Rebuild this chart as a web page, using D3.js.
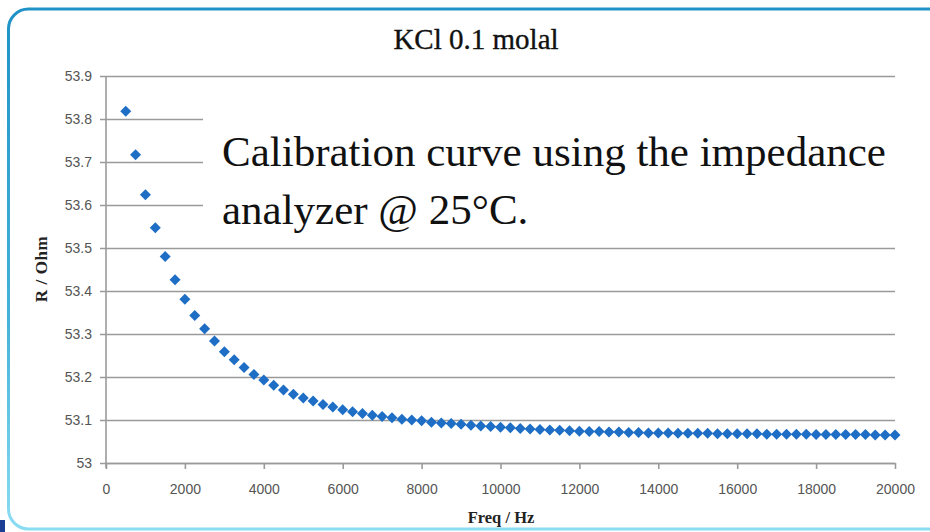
<!DOCTYPE html>
<html>
<head>
<meta charset="utf-8">
<script src="https://cdn.jsdelivr.net/npm/d3@7"></script>
<style>
  html, body { margin: 0; padding: 0; background: #fff; }
  svg { display: block; }
</style>
</head>
<body>
<svg id="chart" width="930" height="532"></svg>
<script>
// KCl 0.1 molal calibration: resistance vs frequency
const freqHz = [
  500, 750, 1000, 1250, 1500, 1750, 2000, 2250, 2500, 2750,
  3000, 3250, 3500, 3750, 4000, 4250, 4500, 4750, 5000, 5250,
  5500, 5750, 6000, 6250, 6500, 6750, 7000, 7250, 7500, 7750,
  8000, 8250, 8500, 8750, 9000, 9250, 9500, 9750, 10000, 10250,
  10500, 10750, 11000, 11250, 11500, 11750, 12000, 12250, 12500, 12750,
  13000, 13250, 13500, 13750, 14000, 14250, 14500, 14750, 15000, 15250,
  15500, 15750, 16000, 16250, 16500, 16750, 17000, 17250, 17500, 17750,
  18000, 18250, 18500, 18750, 19000, 19250, 19500, 19750, 20000
];
const resistanceOhm = [
  53.818, 53.717, 53.624, 53.547, 53.480, 53.426, 53.381, 53.343, 53.312, 53.284,
  53.259, 53.240, 53.222, 53.206, 53.193, 53.181, 53.170, 53.160, 53.151, 53.144,
  53.136, 53.130, 53.124, 53.119, 53.115, 53.111, 53.108, 53.105, 53.102, 53.100,
  53.098, 53.095, 53.093, 53.092, 53.090, 53.088, 53.086, 53.085, 53.083, 53.082,
  53.080, 53.079, 53.078, 53.077, 53.076, 53.075, 53.074, 53.073, 53.073, 53.072,
  53.072, 53.071, 53.071, 53.070, 53.070, 53.070, 53.069, 53.069, 53.069, 53.069,
  53.068, 53.068, 53.068, 53.068, 53.068, 53.067, 53.067, 53.067, 53.067, 53.067,
  53.066, 53.066, 53.066, 53.066, 53.066, 53.066, 53.065, 53.065, 53.065
];
const xTicks = [0, 2000, 4000, 6000, 8000, 10000, 12000, 14000, 16000, 18000, 20000];
const yTicks = [53, 53.1, 53.2, 53.3, 53.4, 53.5, 53.6, 53.7, 53.8, 53.9];
const yTickLabels = ["53", "53.1", "53.2", "53.3", "53.4", "53.5", "53.6", "53.7", "53.8", "53.9"];

const titleText = "KCl 0.1 molal";
const xTitle = "Freq / Hz";
const yTitle = "R / Ohm";
const noteLines = ["Calibration curve using the impedance", "analyzer @ 25°C."];

const svg = d3.select("#chart");

// slide frame
const defs = svg.append("defs");
const grad = defs.append("linearGradient")
  .attr("id", "frameGrad").attr("x1", 0).attr("y1", 0).attr("x2", 0).attr("y2", 1);
grad.append("stop").attr("offset", "0%").attr("stop-color", "#1f93c6");
grad.append("stop").attr("offset", "60%").attr("stop-color", "#45b3d8");
grad.append("stop").attr("offset", "100%").attr("stop-color", "#8adcf2");

svg.append("rect")
  .attr("x", 8.5).attr("y", 9).attr("width", 1040).attr("height", 520)
  .attr("rx", 20).attr("ry", 20)
  .attr("fill", "#fff")
  .attr("stroke", "url(#frameGrad)").attr("stroke-width", 3);

svg.append("rect")
  .attr("x", 0).attr("y", 520).attr("width", 5).attr("height", 12)
  .attr("fill", "#1c3f93");

const plot = { left: 106, right: 895, top: 76, bottom: 463 };

const x = d3.scaleLinear().domain([0, 20000]).range([plot.left, plot.right]);
const y = d3.scaleLinear().domain([53, 53.9]).range([plot.bottom, plot.top]);

// horizontal gridlines (with short ticks left of the axis)
svg.append("g")
  .attr("transform", `translate(${plot.left},0)`)
  .call(d3.axisLeft(y).tickValues(yTicks)
    .tickSize(-(plot.right - plot.left)).tickSizeOuter(0)
    .tickFormat((d, i) => yTickLabels[i]))
  .call(g => g.select(".domain").remove())
  .call(g => g.selectAll(".tick line")
    .attr("x1", -6)
    .attr("stroke", "#9a9a9a").attr("stroke-width", 1.6))
  .call(g => g.selectAll(".tick text")
    .attr("x", -14).attr("dy", "0.35em")
    .attr("fill", "#555")
    .attr("font-family", "'Liberation Sans', Arial, sans-serif")
    .attr("font-size", 14));

// vertical axis line
svg.append("line")
  .attr("x1", plot.left).attr("x2", plot.left)
  .attr("y1", plot.top).attr("y2", plot.bottom + 5)
  .attr("stroke", "#9a9a9a").attr("stroke-width", 1.6);

// x axis
svg.append("g")
  .attr("transform", `translate(0,${plot.bottom})`)
  .call(d3.axisBottom(x).tickValues(xTicks).tickSize(6).tickSizeOuter(0)
    .tickFormat(d3.format("d")))
  .call(g => g.select(".domain")
    .attr("stroke", "#9a9a9a").attr("stroke-width", 1.6))
  .call(g => g.selectAll(".tick line")
    .attr("stroke", "#9a9a9a").attr("stroke-width", 1.6))
  .call(g => g.selectAll(".tick text")
    .attr("y", 21)
    .attr("fill", "#555")
    .attr("font-family", "'Liberation Sans', Arial, sans-serif")
    .attr("font-size", 14));

// white note box covering the upper gridlines
svg.append("rect")
  .attr("x", 203).attr("y", 88).attr("width", 720).attr("height", 147)
  .attr("fill", "#fff");

// data markers (diamonds)
const data = freqHz.map((f, i) => ({ f, r: resistanceOhm[i] }));
svg.append("g")
  .selectAll("path")
  .data(data)
  .join("path")
  .attr("transform", d => `translate(${x(d.f)},${y(d.r)})`)
  .attr("d", "M0,-5.5L5.5,0L0,5.5L-5.5,0Z")
  .attr("fill", "#1f6ec6");

// title
svg.append("text")
  .attr("x", 476).attr("y", 49)
  .attr("text-anchor", "middle")
  .attr("font-family", "'Liberation Serif', 'Times New Roman', serif")
  .attr("font-size", 29)
  .attr("fill", "#111")
  .attr("stroke", "#111").attr("stroke-width", 0.35)
  .text(titleText);

// axis titles
svg.append("text")
  .attr("x", 501).attr("y", 523)
  .attr("text-anchor", "middle")
  .attr("font-family", "'Liberation Serif', 'Times New Roman', serif")
  .attr("font-weight", "bold")
  .attr("font-size", 16.5)
  .attr("fill", "#222")
  .text(xTitle);

svg.append("text")
  .attr("transform", "translate(47,269) rotate(-90)")
  .attr("text-anchor", "middle")
  .attr("font-family", "'Liberation Serif', 'Times New Roman', serif")
  .attr("font-weight", "bold")
  .attr("font-size", 17)
  .attr("letter-spacing", 0.6)
  .attr("fill", "#222")
  .text(yTitle);

// note text
svg.append("g")
  .selectAll("text")
  .data(noteLines)
  .join("text")
  .attr("x", 222)
  .attr("y", (d, i) => 166 + i * 58)
  .attr("font-family", "'Liberation Serif', 'Times New Roman', serif")
  .attr("font-size", 43)
  .attr("fill", "#111")
  .text(d => d);
</script>
</body>
</html>
